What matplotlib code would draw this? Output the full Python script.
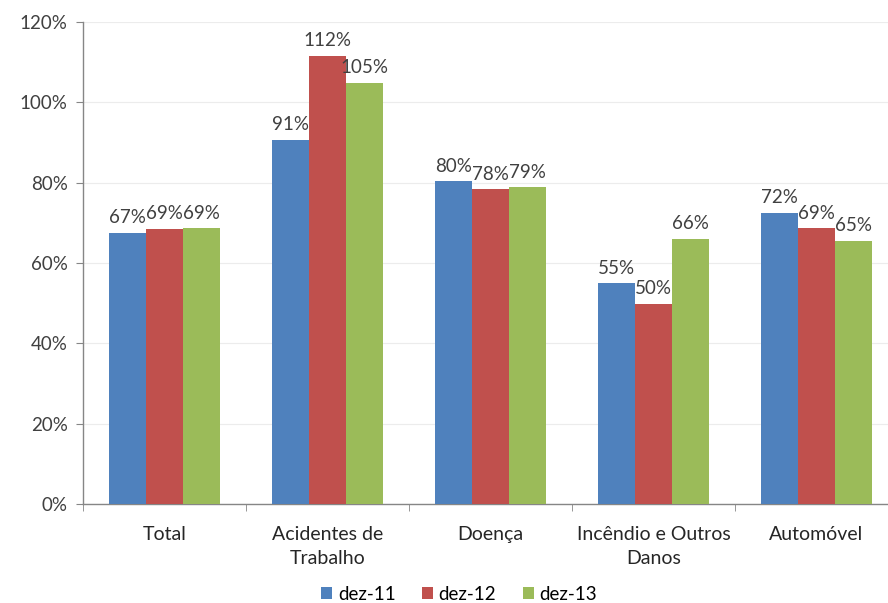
import matplotlib
matplotlib.use("Agg")
import matplotlib.pyplot as plt
import numpy as np

categories = ["Total", "Acidentes de\nTrabalho", "Doença", "Incêndio e Outros\nDanos", "Automóvel"]
series_names = ["dez-11", "dez-12", "dez-13"]
dez11 = [0.674, 0.906, 0.803, 0.549, 0.724]
dez12 = [0.684, 1.115, 0.783, 0.497, 0.686]
dez13 = [0.686, 1.048, 0.788, 0.659, 0.656]
labels11 = ["67%", "91%", "80%", "55%", "72%"]
labels12 = ["69%", "112%", "78%", "50%", "69%"]
labels13 = ["69%", "105%", "79%", "66%", "65%"]
yticks = [0, 0.2, 0.4, 0.6, 0.8, 1.0, 1.2]
ytick_labels = ["0%", "20%", "40%", "60%", "80%", "100%", "120%"]

colors = ["#4F81BD", "#C0504D", "#9BBB59"]

plt.rcParams['font.family'] = ['Lato', 'DejaVu Sans']

fig = plt.figure(figsize=(8.88, 6.03), dpi=100)
ax = fig.add_axes([83/888, 1-504/603, 815/888, (504-22)/603])

x = np.arange(len(categories))
w = 0.225
all_vals = [dez11, dez12, dez13]
all_labels = [labels11, labels12, labels13]
for i, (vals, labs) in enumerate(zip(all_vals, all_labels)):
    bars = ax.bar(x + (i - 1) * w, vals, width=w, color=colors[i], label=series_names[i], zorder=3)
    for b, lab in zip(bars, labs):
        ax.annotate(lab, (b.get_x() + b.get_width() / 2, b.get_height()),
                    xytext=(0, 5), textcoords="offset points",
                    ha="center", va="bottom", fontsize=13.5, color="#404040")

ax.set_xlim(-0.5, len(categories) - 0.5)
ax.set_ylim(0, 1.2)
ax.set_yticks(yticks)
ax.set_yticklabels(ytick_labels, fontsize=13.5, color="#404040")
ax.set_xticks(x)
ax.set_xticklabels(categories, fontsize=14, color="#262626", linespacing=1.5, va="top")
ax.set_xticks(np.arange(-0.5, len(categories), 1.0), minor=True)
ax.tick_params(axis="x", which="major", length=0, pad=16)
ax.tick_params(axis="x", which="minor", length=5, color="#868686", direction="out")
ax.tick_params(axis="y", length=5, color="#868686", direction="out", pad=6)
ax.grid(axis="y", color="#ececec", linewidth=0.8, zorder=0)
for s in ["top", "right"]:
    ax.spines[s].set_visible(False)
for s in ["left", "bottom"]:
    ax.spines[s].set_color("#868686")
    ax.spines[s].set_linewidth(1.0)

handles, labs = ax.get_legend_handles_labels()
fig.legend(handles, labs, loc="center", bbox_to_anchor=(459/888, 1-594/603), ncol=3,
           frameon=False, fontsize=13.5, handlelength=0.6, handleheight=0.6,
           handletextpad=0.3, columnspacing=1.4, borderaxespad=0, borderpad=0)

fig.savefig("out.png", dpi=100)
